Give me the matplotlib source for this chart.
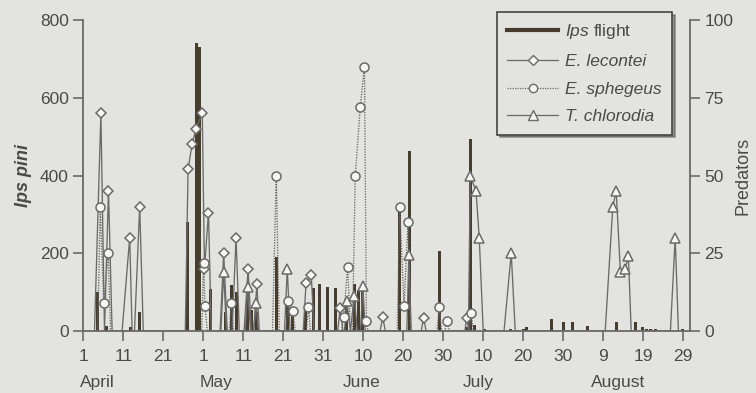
import numpy as np
import matplotlib.pyplot as plt
from matplotlib.lines import Line2D

# days counted from 1 April (1 April = day 1)
ips_day = [4.5, 6.75, 12.75, 15, 27, 29.25, 30, 32.75, 36.5, 38, 39.25, 42, 43, 44.25,
           49.25, 52, 53.25, 56.5, 58.5, 60, 62, 64, 66.75, 68.75, 69.75, 70.75,
           80, 82.5, 90, 96.75, 97.75, 98.75, 101.25, 107.75, 111, 111.75, 118, 121,
           123.25, 127, 134.25, 139, 140.75, 141.75, 142.75, 144, 150.75]
ips_count = [100, 12, 10, 50, 280, 740, 730, 108, 50, 118, 100, 100, 55, 50,
             190, 76, 40, 60, 110, 120, 114, 110, 85, 120, 105, 105,
             312, 463, 207, 10, 493, 15, 5, 6, 6, 10, 32, 22,
             22, 13, 23, 23, 10, 6, 6, 5, 5]

lec_day = [3.8, 5.4, 6.3, 7.3, 8.2, 10.7, 12.6, 13.2, 13.8, 15.1, 16,
           26.5, 27.2, 28.2, 29.2, 30.75, 31.3, 32.3, 33.0,
           35.2, 36.1, 37.0, 38.2, 39.2, 40.0, 41.2, 42.2, 43.0, 43.6, 44.4, 45.0,
           56.0, 56.7, 58.0, 58.7, 64.6, 65.25, 65.9, 75.2, 75.9, 76.5,
           85.5, 86.1, 86.7, 96.4, 96.9, 97.4]
lec_n = [0, 70, 0, 45, 0, 0, 30, 0, 0, 40, 0,
         0, 52, 60, 65, 70, 20, 38, 0,
         0, 25, 0, 0, 30, 0, 0, 20, 0, 0, 15, 0,
         0, 15.5, 18, 0, 0, 7.5, 0, 0, 4.4, 0,
         0, 4.2, 0, 0, 4.3, 0]

sph_day = [4.6, 5.25, 6.1, 7.25, 7.8, 30.6, 31.1, 31.4, 32.0, 37.5, 38, 38.6,
           48.3, 49.25, 50.0, 51.6, 52.2, 53.4, 54.0, 56.8, 57.3, 57.8,
           65.6, 66.1, 67.1, 67.8, 68.3, 69.0, 70.25, 71.3, 71.8, 72.2,
           79.5, 80.1, 81.2, 82.2, 82.8, 89.4, 90, 90.6, 91.4, 92, 92.6,
           97.5, 98, 98.5]
sph_n = [0, 40, 9, 25, 0, 0, 22, 8, 0, 0, 9, 0,
         0, 50, 0, 0, 9.7, 6.3, 0, 0, 7.7, 0,
         0, 4.6, 20.7, 0, 0, 50, 72, 85, 3.2, 0,
         0, 40, 8, 35, 0, 0, 7.6, 0, 0, 3.2, 0,
         0, 5.7, 0]

chl_day = [35.4, 36.1, 36.8, 41.5, 42.1, 42.8, 43.6, 44.2, 44.8, 51.3, 52, 52.7,
           66.3, 66.9, 67.8, 68.75, 69.5, 70.3, 70.9, 71.5, 81.9, 82.4, 83,
           97.3, 97.75, 99.2, 100, 101, 106.2, 108, 109,
           131.5, 133.4, 134.25, 135.3, 136.5, 137.3, 138.0, 147.8, 149, 149.8]
chl_n = [0, 19, 0, 0, 14, 0, 0, 9, 0, 0, 20, 0,
         0, 9.5, 0, 11.4, 0, 0, 14.4, 0, 0, 24.4, 0,
         0, 50, 45, 30, 0, 0, 25, 0,
         0, 40, 45, 19, 20, 24, 0, 0, 30, 0]

tick_pos = [1, 11, 21, 31, 41, 51, 61, 71, 81, 91, 101, 111, 121, 131, 141, 151]
tick_lab = ['1', '11', '21', '1', '11', '21', '31', '10', '20', '30', '10', '20', '30', '9', '19', '29']
month_pos = [4.4, 34.3, 70.5, 99.8, 134.8]
month_lab = ['April', 'May', 'June', 'July', 'August']

plt.rcParams['font.family'] = ['Liberation Sans', 'DejaVu Sans']
plt.rcParams['mathtext.fontset'] = 'custom'
plt.rcParams['mathtext.it'] = 'Liberation Sans:italic'

paper = '#e3e3df'
grey = '#6a6a6a'
txt = '#4a4a4a'
bar_c = '#463d2e'

fig = plt.figure(figsize=(7.56, 3.93), dpi=100, facecolor=paper)
ax = fig.add_axes([83.3 / 756, 62 / 393, (690 - 83.3) / 756, 311 / 393])
ax.set_facecolor(paper)
ax.bar(ips_day, ips_count, width=0.85, color=bar_c, zorder=2)
ax.set_xlim(1, 152.7)
ax.set_ylim(0, 800)
ax.set_yticks([0, 200, 400, 600, 800])
ax.set_xticks(tick_pos)
ax.set_xticklabels(tick_lab)
for s in ['top', 'right']:
    ax.spines[s].set_visible(False)
for s in ['left', 'bottom']:
    ax.spines[s].set_color(grey)
    ax.spines[s].set_linewidth(1.3)
ax.tick_params(direction='out', length=7, width=1.2, color=grey, labelcolor=txt, labelsize=12.5)
ax.tick_params(axis='x', pad=6)
ax.set_ylabel('Ips pini', fontsize=13, fontstyle='italic', fontweight='bold', color=txt, labelpad=6)
for p, m in zip(month_pos, month_lab):
    ax.text(p, -0.14, m, transform=ax.get_xaxis_transform(), ha='center', va='top',
            fontsize=12.5, color=txt)

ax2 = ax.twinx()
ax2.set_ylim(0, 100)
ax2.set_yticks([0, 25, 50, 75, 100])
for s in ['top', 'left', 'bottom']:
    ax2.spines[s].set_visible(False)
ax2.spines['right'].set_color(grey)
ax2.spines['right'].set_linewidth(1.3)
ax2.tick_params(direction='out', length=7, width=1.2, color=grey, labelcolor=txt, labelsize=12.5)
ax2.set_ylabel('Predators', fontsize=13, color=txt, labelpad=1)

mfc = '#f6f6f2'
series = [(lec_day, lec_n, 'D', '-', 5.5),
          (sph_day, sph_n, 'o', (0, (1, 1)), 6.5),
          (chl_day, chl_n, '^', '-', 7)]
for d, n, mk, ls, ms in series:
    ax2.plot(d, n, color=grey, lw=0.95, ls=ls, zorder=3)
    d = np.array(d)
    n = np.array(n)
    keep = n > 0
    ax2.plot(d[keep], n[keep], ls='none', marker=mk, ms=ms, mfc=mfc, mec=grey, mew=1.1, zorder=4)

handles = [Line2D([], [], color=bar_c, lw=3),
           Line2D([], [], color=grey, lw=0.9, marker='D', ms=5, mfc=mfc, mec=grey),
           Line2D([], [], color=grey, lw=0.9, ls=(0, (1, 1)), marker='o', ms=6, mfc=mfc, mec=grey),
           Line2D([], [], color=grey, lw=0.9, marker='^', ms=6.5, mfc=mfc, mec=grey)]
labels = [r'$\mathit{Ips}$ flight', 'E. lecontei', 'E. sphegeus', 'T. chlorodia']
leg = ax2.legend(handles, labels, loc='upper right', bbox_to_anchor=(0.97, 1.026),
                 borderaxespad=0, frameon=True, shadow=True, fancybox=False, fontsize=12.5,
                 handlelength=2.9, handletextpad=0.4, labelspacing=0.72, borderpad=0.6)
leg.get_frame().set_facecolor(paper)
leg.get_frame().set_edgecolor('#444444')
leg.get_frame().set_linewidth(1.2)
for t in leg.get_texts()[1:]:
    t.set_fontstyle('italic')
for t in leg.get_texts():
    t.set_color(txt)

fig.savefig('out.png', dpi=100, facecolor=paper)
